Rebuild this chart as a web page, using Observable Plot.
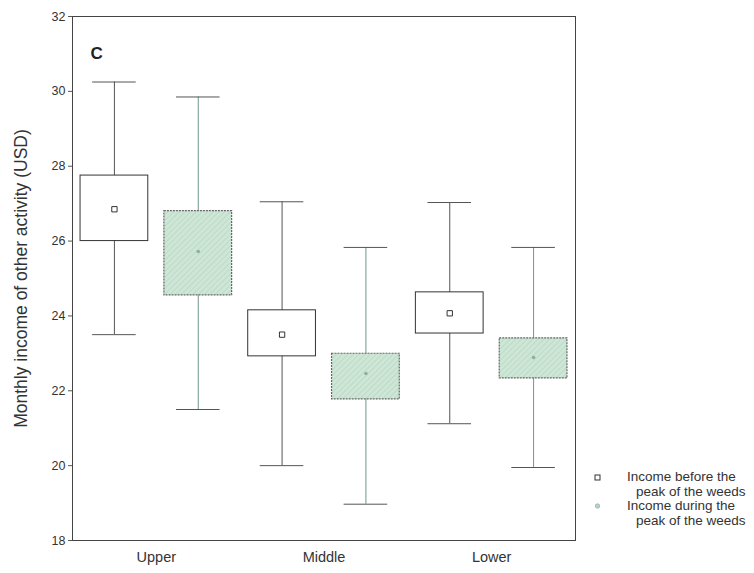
<!DOCTYPE html>
<html>
<head>
<meta charset="utf-8">
<script src="https://cdn.jsdelivr.net/npm/d3@7"></script>
<script src="https://cdn.jsdelivr.net/npm/@observablehq/plot@0.6"></script>
<style>
  html, body { margin: 0; padding: 0; background: #fff; }
  #wrap { position: relative; width: 754px; height: 573px; font-family: Arial, "Liberation Sans", sans-serif; }
  #legend { position: absolute; left: 592px; top: 470px; font-size: 13.5px; color: #333; line-height: 14.5px; }
  .item { display: flex; align-items: flex-start; }
  .sym { width: 35px; height: 14px; flex: none; }
  .txt { white-space: nowrap; }
  .txt span { display: block; }
  .txt span + span { padding-left: 9px; }
</style>
</head>
<body>
<div id="wrap">
  <div id="chart"></div>
  <div id="legend">
    <div class="item">
      <svg class="sym" width="35" height="14"><rect x="3" y="5" width="5" height="5" fill="#fff" stroke="#333" stroke-width="1"/></svg>
      <div class="txt"><span>Income before the</span><span>peak of the weeds</span></div>
    </div>
    <div class="item">
      <svg class="sym" width="35" height="14"><circle cx="5.5" cy="7" r="2.2" fill="#b9d3c4" stroke="#9ab4a6" stroke-width="0.8"/></svg>
      <div class="txt"><span>Income during the</span><span>peak of the weeds</span></div>
    </div>
  </div>
</div>
<script>
// Categories and series
const categories = ["Upper", "Middle", "Lower"];
const series = ["before", "during"];
const yTicks = [18, 20, 22, 24, 26, 28, 30, 32];
const panelLabel = "C";
const yLabel = "Monthly income of other activity (USD)";

// Income before the peak of the weeds
const beforeWhiskerHigh = [30.25, 27.05, 27.03];
const beforeBoxHigh     = [27.75, 24.15, 24.63];
const beforeMean        = [26.85, 23.50, 24.07];
const beforeBoxLow      = [26.00, 22.92, 23.53];
const beforeWhiskerLow  = [23.50, 20.00, 21.12];

// Income during the peak of the weeds
const duringWhiskerHigh = [29.85, 25.83, 25.83];
const duringBoxHigh     = [26.80, 22.99, 23.40];
const duringMean        = [25.72, 22.46, 22.89];
const duringBoxLow      = [24.55, 21.77, 22.33];
const duringWhiskerLow  = [21.50, 18.97, 19.95];

const table = [];
categories.forEach((c, i) => {
  table.push({cat: c, s: "before", pos: i * 2,
    wh: beforeWhiskerHigh[i], bh: beforeBoxHigh[i], m: beforeMean[i], bl: beforeBoxLow[i], wl: beforeWhiskerLow[i]});
  table.push({cat: c, s: "during", pos: i * 2 + 1,
    wh: duringWhiskerHigh[i], bh: duringBoxHigh[i], m: duringMean[i], bl: duringBoxLow[i], wl: duringWhiskerLow[i]});
});
const before = table.filter(d => d.s === "before");
const during = table.filter(d => d.s === "during");
const groupCenters = categories.map((c, i) => i * 2 + 0.5);

const boxHalf = 0.404, capHalf = 0.26;

const chart = Plot.plot({
  width: 754,
  height: 573,
  marginLeft: 72,
  marginRight: 179,
  marginTop: 16,
  marginBottom: 33,
  style: {fontFamily: "Arial, 'Liberation Sans', sans-serif", color: "#333", background: "#fff"},
  x: {domain: [-0.5, categories.length * 2 - 0.5]},
  y: {domain: [18, 32]},
  marks: [
    Plot.axisY({ticks: yTicks, tickSize: 4, tickPadding: 3, fontSize: 12.5, stroke: "#555", label: null}),
    Plot.text([yLabel], {frameAnchor: "left", text: d => d, rotate: -90, dx: -51, textAnchor: "middle",
      fontSize: 17.5, fill: "#333"}),
    Plot.axisX({ticks: groupCenters, tickFormat: (d) => categories[Math.round((d - 0.5) / 2)],
      tickSize: 0, tickPadding: 11, fontSize: 14.5, label: null, letterSpacing: 0.8}),
    // whiskers
    Plot.ruleX(before, {x: "pos", y1: "wl", y2: "wh", stroke: "#555", strokeWidth: 1}),
    Plot.ruleX(during, {x: "pos", y1: "wl", y2: "wh", stroke: "#6f9887", strokeWidth: 1}),
    Plot.ruleY(table, {y: "wh", x1: d => d.pos - capHalf, x2: d => d.pos + capHalf, stroke: "#555", strokeWidth: 1}),
    Plot.ruleY(table, {y: "wl", x1: d => d.pos - capHalf, x2: d => d.pos + capHalf, stroke: "#555", strokeWidth: 1}),
    // boxes
    Plot.rect(before, {x1: d => d.pos - boxHalf, x2: d => d.pos + boxHalf, y1: "bl", y2: "bh",
      fill: "#fff", stroke: "#333", strokeWidth: 1}),
    Plot.rect(during, {x1: d => d.pos - boxHalf, x2: d => d.pos + boxHalf, y1: "bl", y2: "bh",
      fill: "url(#hatch)", stroke: "#666", strokeWidth: 1.2, strokeDasharray: "2,1"}),
    // means
    Plot.dot(before, {x: "pos", y: "m", symbol: "square", r: 3, fill: "#fff", stroke: "#333", strokeWidth: 1}),
    Plot.dot(during, {x: "pos", y: "m", r: 1.8, fill: "#8fae9d", stroke: "none"}),
    Plot.frame({stroke: "#444", strokeWidth: 1}),
    Plot.text([panelLabel], {frameAnchor: "top-left", text: d => d, dx: 18, dy: 30,
      fontSize: 17, fontWeight: "bold", fill: "#222"})
  ]
});

// hatch pattern for "during" boxes
const svg = d3.select(chart);
const defs = svg.insert("defs", ":first-child");
const pat = defs.append("pattern").attr("id", "hatch").attr("patternUnits", "userSpaceOnUse")
  .attr("width", 4).attr("height", 4).attr("patternTransform", "rotate(45)");
pat.append("rect").attr("width", 4).attr("height", 4).attr("fill", "#cde6d6");
pat.append("line").attr("x1", 0).attr("y1", 0).attr("x2", 0).attr("y2", 4)
  .attr("stroke", "#b5d2c0").attr("stroke-width", 1.2);

document.getElementById("chart").appendChild(chart);
</script>
</body>
</html>
